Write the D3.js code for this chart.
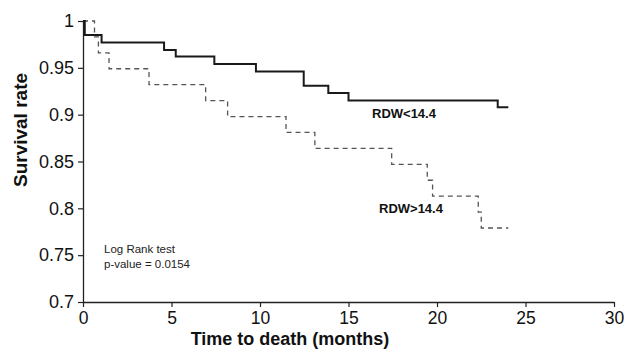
<!DOCTYPE html>
<html>
<head>
<meta charset="utf-8">
<script src="https://cdn.jsdelivr.net/npm/d3@7"></script>
<style>
  body { margin: 0; background: #fff; }
  svg { display: block; font-family: "Liberation Sans", Arial, sans-serif; }
</style>
</head>
<body>
<svg width="628" height="355"></svg>
<script>
// Kaplan-Meier steps: time of each drop and survival after it
const lowTimes = [0, 0.1, 1.05, 4.58, 5.24, 7.42, 9.77, 12.47, 13.86, 15.0, 23.43, 24.03];
const lowSurv  = [1, 0.985, 0.977, 0.969, 0.962, 0.954, 0.946, 0.931, 0.923, 0.915, 0.908, 0.908];

const highTimes = [0, 0.65, 0.87, 1.47, 3.73, 6.93, 8.17, 11.47, 13.1, 17.44, 19.45, 19.75, 22.33, 22.5, 24.03];
const highSurv  = [1, 0.983, 0.966, 0.949, 0.932, 0.915, 0.898, 0.881, 0.864, 0.847, 0.830, 0.813, 0.796, 0.779, 0.779];

const xTicks = [0, 5, 10, 15, 20, 25, 30];
const yTicks = [0.7, 0.75, 0.8, 0.85, 0.9, 0.95, 1];

const svg = d3.select("svg");
const x = d3.scaleLinear().domain([0, 30]).range([83, 614]);
const y = d3.scaleLinear().domain([0.7, 1]).range([302, 21]);

// axes
const xAxis = svg.append("g")
    .attr("transform", `translate(0,${y(0.7)})`)
    .call(d3.axisBottom(x).tickValues(xTicks).tickSize(5).tickSizeOuter(0).tickFormat(d3.format("d")));
const yAxis = svg.append("g")
    .attr("transform", `translate(${x(0)},0)`)
    .call(d3.axisLeft(y).tickValues(yTicks).tickSize(5).tickSizeOuter(0).tickFormat(d => String(+d.toFixed(2))));

[xAxis, yAxis].forEach(g => {
    g.select(".domain").attr("stroke", "#222").attr("stroke-width", 1.3);
    g.selectAll(".tick line").attr("stroke", "#222").attr("stroke-width", 1.2);
    g.selectAll(".tick text").attr("fill", "#111").style("font-size", "18px")
        .style("font-family", "'Liberation Sans', Arial, sans-serif");
});
xAxis.selectAll(".tick text").style("font-size", "17.5px").attr("dy", "0.78em");
yAxis.selectAll(".tick text").attr("dx", "-1px");

// curves
const line = d3.line().x(d => x(d[0])).y(d => y(d[1])).curve(d3.curveStepAfter);

svg.append("path")
    .datum(d3.zip(highTimes, highSurv))
    .attr("fill", "none")
    .attr("stroke", "#555")
    .attr("stroke-width", 1.3)
    .attr("stroke-dasharray", "5,4")
    .attr("d", line);

svg.append("path")
    .datum(d3.zip(lowTimes, lowSurv))
    .attr("fill", "none")
    .attr("stroke", "#1a1a1a")
    .attr("stroke-width", 2)
    .attr("d", line);

// labels
svg.append("text").attr("x", 372).attr("y", 117.5)
    .style("font-size", "13px").style("font-weight", "bold").attr("fill", "#111")
    .text("RDW<14.4");
svg.append("text").attr("x", 379).attr("y", 213)
    .style("font-size", "13px").style("font-weight", "bold").attr("fill", "#111")
    .text("RDW>14.4");

svg.append("text").attr("x", 104).attr("y", 252.5)
    .style("font-size", "11.5px").attr("fill", "#222")
    .text("Log Rank test");
svg.append("text").attr("x", 104).attr("y", 268)
    .style("font-size", "11.5px").attr("fill", "#222")
    .text("p-value = 0.0154");

// axis titles
svg.append("text").attr("x", 290).attr("y", 344.5)
    .attr("text-anchor", "middle")
    .style("font-size", "18px").style("font-weight", "bold").attr("fill", "#111")
    .text("Time to death (months)");
svg.append("text")
    .attr("transform", "translate(27,130) rotate(-90)")
    .attr("text-anchor", "middle")
    .style("font-size", "19px").style("font-weight", "bold").attr("fill", "#111")
    .text("Survival rate");
</script>
</body>
</html>
